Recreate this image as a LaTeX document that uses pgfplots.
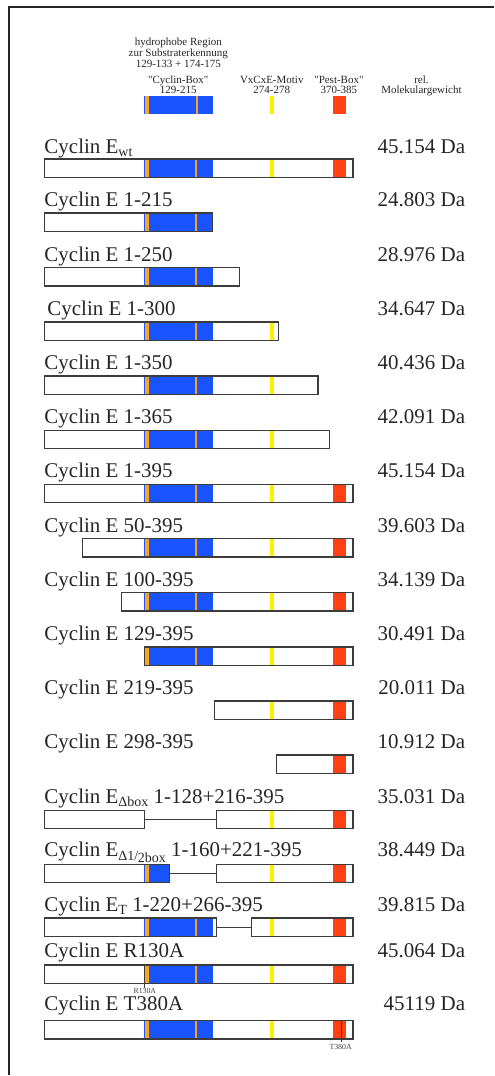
\documentclass[border=0pt]{standalone}
\usepackage{pgfplots}
\pgfplotsset{compat=1.18}
\usepackage{fontspec}
\setmainfont{Liberation Serif}[Ligatures=TeXOff]
\definecolor{cblue}{RGB}{26,84,255}
\definecolor{corange}{RGB}{250,165,30}
\definecolor{cyellow}{RGB}{255,240,0}
\definecolor{cred}{RGB}{255,64,20}
\definecolor{outl}{RGB}{60,60,60}
\newcommand{\dom}[5]{\addplot[fill=#5,draw=none] coordinates {(#1,#3) (#2,#3) (#2,#4) (#1,#4)} -- cycle;}
\newcommand{\frm}[4]{\addplot[draw=outl,line width=1.4pt] coordinates {(#1,#3) (#2,#3) (#2,#4) (#1,#4)} -- cycle;}
\newcommand{\lnk}[3]{\addplot[draw=outl,line width=1pt] coordinates {(#1,#3) (#2,#3)};}
\newcommand{\vmark}[3]{\addplot[draw=outl,line width=0.9pt] coordinates {(#1,#2) (#1,#3)};}
\newcommand{\boxdom}[2]{\dom{127.6}{215.3}{#1}{#2}{cblue}\dom{128.3}{134}{#1}{#2}{corange}\dom{193}{195.5}{#1}{#2}{corange}}
\newcommand{\yel}[2]{\dom{289.4}{294.5}{#1}{#2}{cyellow}}
\newcommand{\pest}[2]{\dom{369}{385.6}{#1}{#2}{cred}}
\newcommand{\mf}{\fontsize{21}{24}\selectfont}
\newcommand{\hf}{\fontsize{11}{11}\selectfont}
\newcommand{\sub}[1]{\raisebox{-3.5pt}{\fontsize{14}{14}\selectfont #1}}
\newcommand{\subb}[1]{\raisebox{-6pt}{\fontsize{14}{14}\selectfont #1}}
\begin{document}
\begin{tikzpicture}
\begin{axis}[hide axis, scale only axis, width=494pt, height=1076pt,
  xmin=-56.63, xmax=574.85, ymin=0, ymax=1076, y dir=reverse, clip=false]
\path (rel axis cs:0,0) rectangle (rel axis cs:1,1);
% frame
\draw[line width=2pt, color=black!85] (axis cs:-44.7,1076) -- (axis cs:-44.7,7.2) -- (axis cs:574.85,7.2);
% header
\begin{scope}[every node/.style={inner sep=0pt, anchor=base, font=\hf, text=black!85}]
\node at (axis cs:171.5,46) {hydrophobe Region};
\node at (axis cs:171.5,56.7) {zur Substraterkennung};
\node at (axis cs:171.5,67.3) {129-133 + 174-175};
\node at (axis cs:171.5,83.3) {"Cyclin-Box"};
\node at (axis cs:171.5,93.7) {129-215};
\node at (axis cs:291.1,83.3) {VxCxE-Motiv};
\node at (axis cs:291.1,93.7) {274-278};
\node at (axis cs:377,83.3) {"Pest-Box"};
\node at (axis cs:377,93.7) {370-385};
\node at (axis cs:482.6,83.3) {rel.};
\node at (axis cs:482.6,93.7) {Molekulargewicht};
\end{scope}
\dom{127.6}{215.3}{96}{113.7}{cblue}
\dom{128.3}{134}{96}{113.7}{corange}
\dom{194.3}{196.8}{96}{113.7}{corange}
\dom{288.5}{293.6}{96}{113.7}{cyellow}
\dom{369}{385.6}{96}{113.7}{cred}
% rows
% 1 wt
\boxdom{159.3}{177.7}\yel{159.3}{177.7}\pest{159.3}{177.7}\frm{0}{395}{159.3}{177.7}
% 2 1-215
\boxdom{213.3}{231.7}\frm{0}{215.3}{213.3}{231.7}
% 3 1-250
\boxdom{267.7}{286.1}\frm{0}{250}{267.7}{286.1}
% 4 1-300
\boxdom{322.3}{340.7}\yel{322.3}{340.7}\frm{0}{300}{322.3}{340.7}
% 5 1-350
\boxdom{376.3}{394.7}\yel{376.3}{394.7}\frm{0}{350}{376.3}{394.7}
% 6 1-365
\boxdom{430.7}{449.1}\yel{430.7}{449.1}\frm{0}{365}{430.7}{449.1}
% 7 1-395
\boxdom{484.7}{503.1}\yel{484.7}{503.1}\pest{484.7}{503.1}\frm{0}{395}{484.7}{503.1}
% 8 50-395
\boxdom{539}{557.4}\yel{539}{557.4}\pest{539}{557.4}\frm{49}{395}{539}{557.4}
% 9 100-395
\boxdom{593.3}{611.7}\yel{593.3}{611.7}\pest{593.3}{611.7}\frm{99}{395}{593.3}{611.7}
% 10 129-395
\boxdom{647.7}{666.1}\yel{647.7}{666.1}\pest{647.7}{666.1}\frm{128}{395}{647.7}{666.1}
% 11 219-395
\yel{701.7}{720.1}\pest{701.7}{720.1}\frm{218}{395}{701.7}{720.1}
% 12 298-395
\pest{755.7}{774.1}\frm{297}{395}{755.7}{774.1}
% 13 delta box
\lnk{128}{220}{820.2}\frm{0}{128}{811}{829.4}
\yel{811}{829.4}\pest{811}{829.4}\frm{220}{395}{811}{829.4}
% 14 delta half box
\dom{127.6}{160.3}{865}{883.4}{cblue}\dom{128.3}{134}{865}{883.4}{corange}
\lnk{160.3}{220}{874.2}\frm{0}{160.3}{865}{883.4}
\yel{865}{883.4}\pest{865}{883.4}\frm{220}{395}{865}{883.4}
% 15 ET
\boxdom{919}{937.4}\lnk{220.4}{265.1}{928.2}\frm{0}{220.4}{919}{937.4}
\yel{919}{937.4}\pest{919}{937.4}\frm{265.1}{395}{919}{937.4}
% 16 R130A
\boxdom{965.7}{984.1}\yel{965.7}{984.1}\pest{965.7}{984.1}\frm{0}{395}{965.7}{984.1}
\vmark{128.7}{965.7}{989.3}
% 17 T380A
\boxdom{1021.7}{1040.1}\yel{1021.7}{1040.1}\pest{1021.7}{1040.1}\frm{0}{395}{1021.7}{1040.1}
\vmark{379.7}{1021.7}{1042.7}
\node[inner sep=0pt, anchor=base, font=\fontsize{7.8}{8}\selectfont, text=black!75] at (axis cs:128.7,994.5) {R130A};
\node[inner sep=0pt, anchor=base, font=\fontsize{7.8}{8}\selectfont, text=black!75] at (axis cs:379.2,1050) {T380A};
% labels
\begin{scope}[every node/.style={inner sep=0pt, anchor=base west, font=\mf, text=black!85}]
\node at (axis cs:0,153.3) {Cyclin E\sub{wt}};
\node at (axis cs:0,206.9) {Cyclin E 1-215};
\node at (axis cs:0,261.5) {Cyclin E 1-250};
\node at (axis cs:3.8,316) {Cyclin E 1-300};
\node at (axis cs:0,370) {Cyclin E 1-350};
\node at (axis cs:0,424.3) {Cyclin E 1-365};
\node at (axis cs:0,478.3) {Cyclin E 1-395};
\node at (axis cs:0,532.6) {Cyclin E 50-395};
\node at (axis cs:0,586.9) {Cyclin E 100-395};
\node at (axis cs:0,641.3) {Cyclin E 129-395};
\node at (axis cs:0,695.3) {Cyclin E 219-395};
\node at (axis cs:0,749.3) {Cyclin E 298-395};
\node at (axis cs:0,804) {Cyclin E\sub{Δbox} 1-128+216-395};
\node at (axis cs:0,857.3) {Cyclin E\sub{Δ1/}\kern-0.5pt\subb{2box} 1-160+221-395};
\node at (axis cs:0,912.3) {Cyclin E\sub{T} 1-220+266-395};
\node at (axis cs:0,958.3) {Cyclin E R130A};
\node at (axis cs:0,1011.7) {Cyclin E T380A};
\end{scope}
\begin{scope}[every node/.style={inner sep=0pt, anchor=base east, font=\mf, text=black!85}]
\node at (axis cs:538.7,153.3) {45.154 Da};
\node at (axis cs:538.7,206.9) {24.803 Da};
\node at (axis cs:538.7,261.5) {28.976 Da};
\node at (axis cs:538.7,316) {34.647 Da};
\node at (axis cs:538.7,370) {40.436 Da};
\node at (axis cs:538.7,424.3) {42.091 Da};
\node at (axis cs:538.7,478.3) {45.154 Da};
\node at (axis cs:538.7,532.6) {39.603 Da};
\node at (axis cs:538.7,586.9) {34.139 Da};
\node at (axis cs:538.7,641.3) {30.491 Da};
\node at (axis cs:538.7,695.3) {20.011 Da};
\node at (axis cs:538.7,749.3) {10.912 Da};
\node at (axis cs:538.7,804) {35.031 Da};
\node at (axis cs:538.7,857.3) {38.449 Da};
\node at (axis cs:538.7,912.3) {39.815 Da};
\node at (axis cs:538.7,958.3) {45.064 Da};
\node at (axis cs:538.7,1011.7) {45119 Da};
\end{scope}
\end{axis}
\end{tikzpicture}
\end{document}
